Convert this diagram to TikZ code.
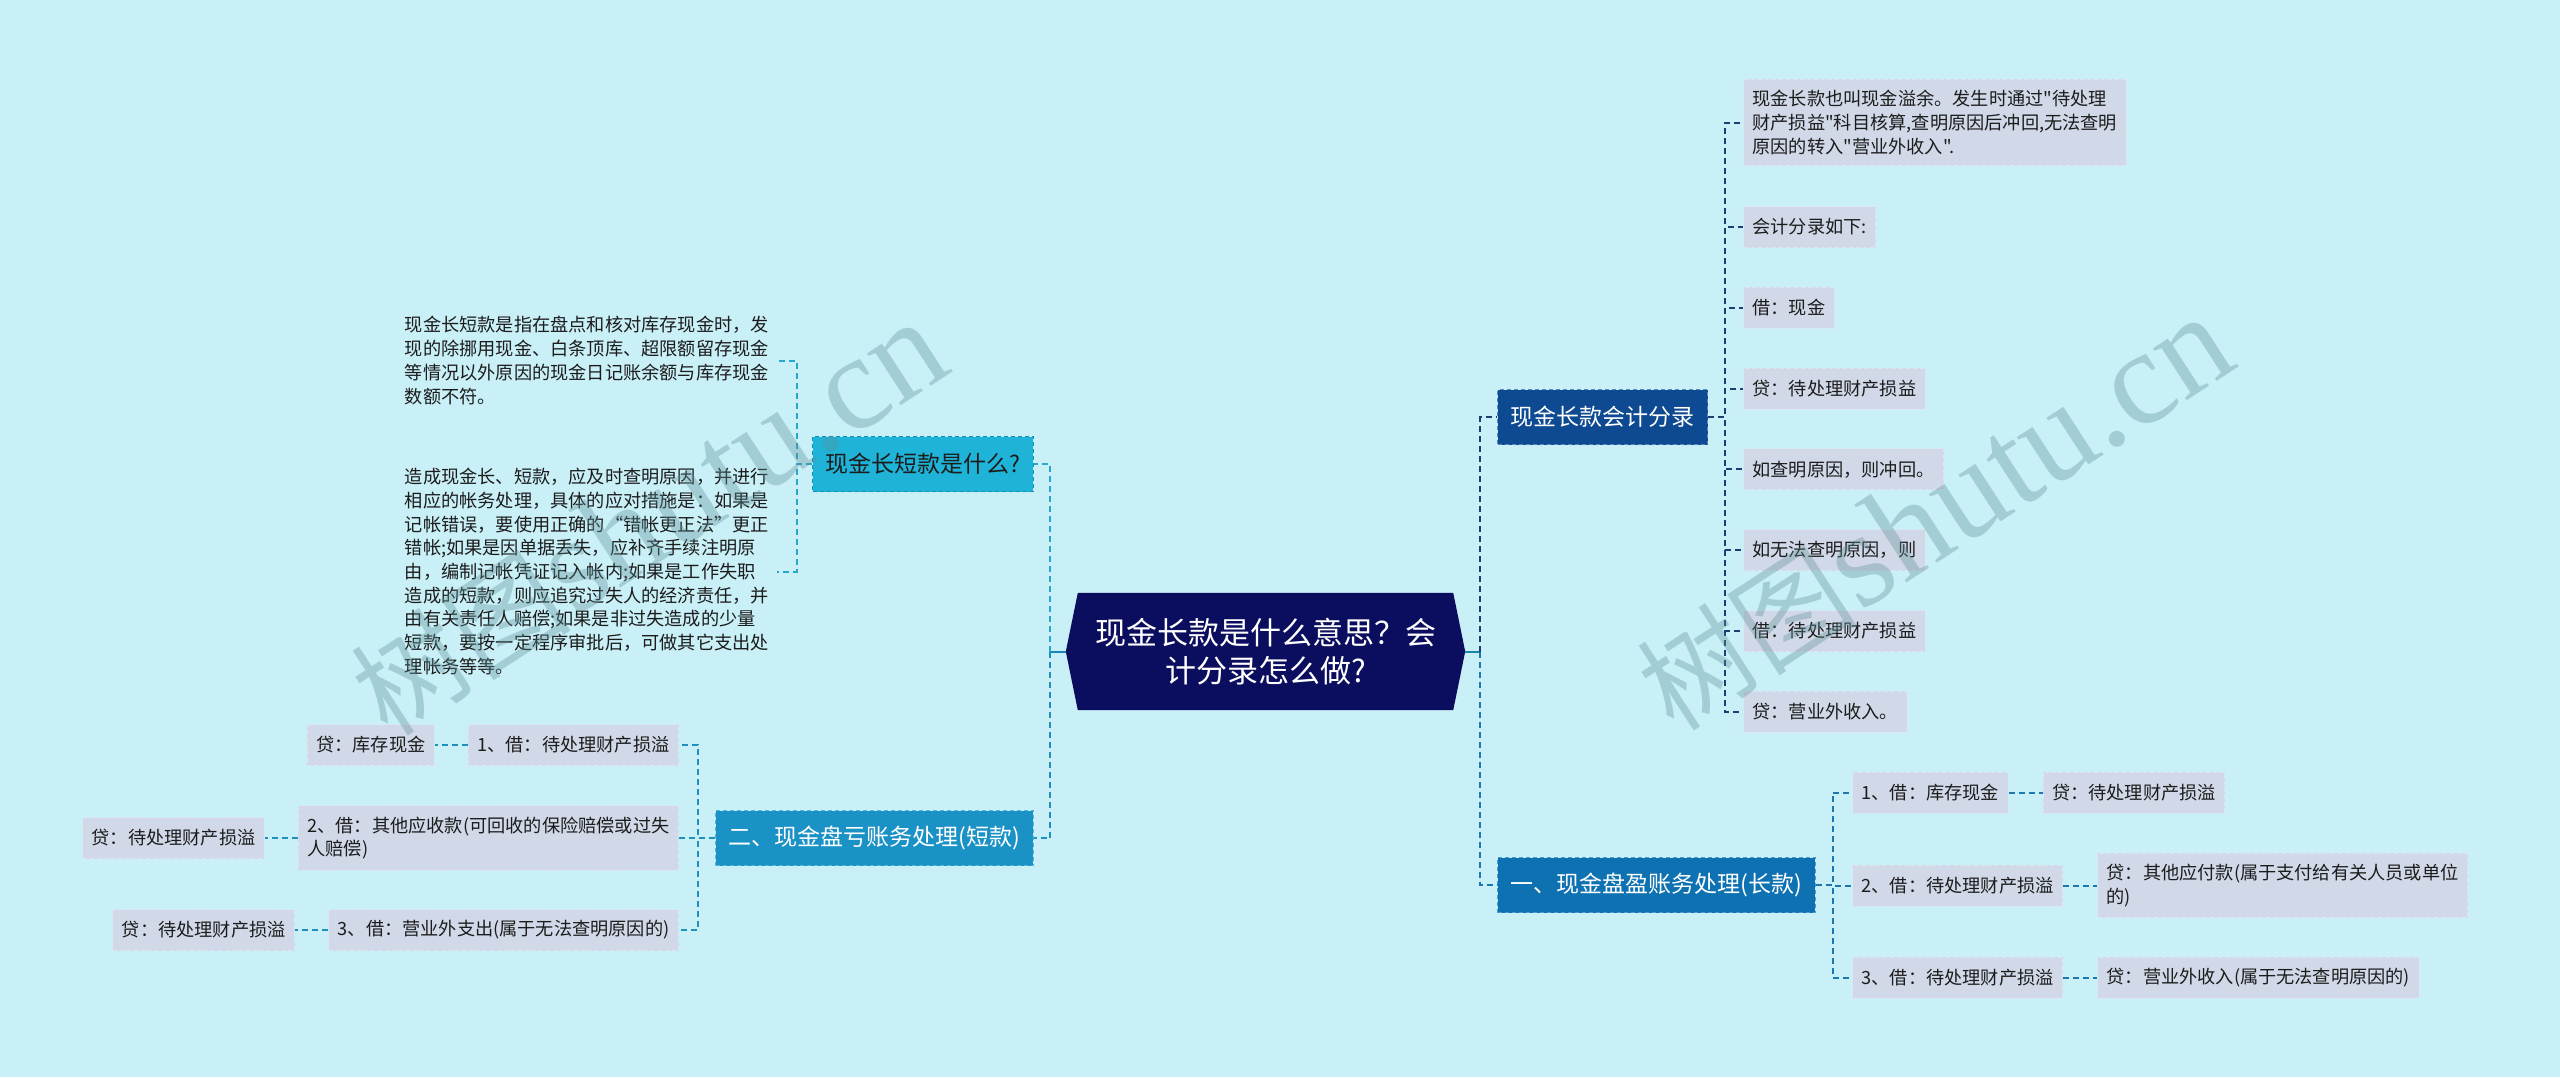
\documentclass[tikz,border=0pt]{standalone}
\usepackage{fontspec}
\newfontfamily\cjk{Noto Sans CJK SC}
\newfontfamily\wmserif{Liberation Serif}
\usetikzlibrary{backgrounds}

\begin{document}
\begin{tikzpicture}[x=1pt, y=-1pt,
    leaf/.style={fill=leafFill, draw=leafEdge, line width=1pt, dash pattern=on 4pt off 3pt,
        font=\cjk\fontsize{18.2}{23.7}\selectfont, text=leafText, align=left,
        inner xsep=9pt, inner ysep=11pt, minimum height=41pt},
    para/.style={font=\cjk\fontsize{18.2}{23.7}\selectfont, text=leafText, align=left, inner xsep=8pt},
    branch/.style={font=\cjk\fontsize{23}{28}\selectfont, line width=1.2pt, dash pattern=on 4pt off 3pt,
        inner xsep=13pt, minimum height=55pt},
    link/.style={line width=2pt, dash pattern=on 6pt off 4pt},
    watermark/.style={text=wmColour, text opacity=0.35, rotate=33}]
    % Define colours
    \definecolor{bgColour}{HTML}{C9EFF7}
    \definecolor{rootFill}{HTML}{0B0E5E}
    \definecolor{leafFill}{HTML}{D1D9E8}
    \definecolor{leafEdge}{HTML}{DFE5EF}
    \definecolor{leafText}{HTML}{1C1C1C}
    \definecolor{lbOneFill}{HTML}{1FB3D8}
    \definecolor{lbOneEdge}{HTML}{1390B6}
    \definecolor{lbOneLine}{HTML}{27A7CC}
    \definecolor{lbTwoFill}{HTML}{1A92C6}
    \definecolor{lbTwoEdge}{HTML}{55B5DC}
    \definecolor{lbTwoLine}{HTML}{1D90BE}
    \definecolor{rbOneFill}{HTML}{0E4A92}
    \definecolor{rbOneEdge}{HTML}{5B87BD}
    \definecolor{rbOneLine}{HTML}{1B3F73}
    \definecolor{rbTwoFill}{HTML}{0E72B2}
    \definecolor{rbTwoEdge}{HTML}{4C9CD0}
    \definecolor{rbTwoLine}{HTML}{1C78AE}
    \definecolor{stubColour}{HTML}{1A84B4}
    \definecolor{wmColour}{HTML}{5E8F96}

    \useasboundingbox (0,0) rectangle (2560,1077);

    % Root
    \node[text=white, align=center, font=\cjk\fontsize{31}{38}\selectfont,
        minimum width=399pt, minimum height=117pt] (root) at (1265.5,651.5)
        {现金长款是什么意思？会\\计分录怎么做?};
    \coordinate (ltrunk) at (1050,651.5);
    \coordinate (rtrunk) at (1480,651.5);

    % Main branches
    \node[branch, anchor=east, fill=lbOneFill, draw=lbOneEdge, text=leafText] (lb1) at (1034,464) {现金长短款是什么?};
    \node[branch, anchor=east, fill=lbTwoFill, draw=lbTwoEdge, text=white] (lb2) at (1034,838) {二、现金盘亏账务处理(短款)};
    \node[branch, anchor=west, fill=rbOneFill, draw=rbOneEdge, text=white] (rb1) at (1497,417) {现金长款会计分录};
    \node[branch, anchor=west, fill=rbTwoFill, draw=rbTwoEdge, text=white] (rb2) at (1497,885) {一、现金盘盈账务处理(长款)};

    \draw[stubColour, line width=2pt] (root.west) -- (ltrunk);
    \draw[stubColour, line width=2pt] (root.east) -- (rtrunk);
    \draw[link, lbOneLine] (ltrunk) |- (lb1.east);
    \draw[link, lbTwoLine] (ltrunk) |- (lb2.east);
    \draw[link, rbOneLine] (rtrunk) |- (rb1.west);
    \draw[link, rbTwoLine] (rtrunk) |- (rb2.west);

    % Left: what it is
    \node[para, anchor=east] (p1) at (777,360.5) {现金长短款是指在盘点和核对库存现金时，发\\现的除挪用现金、白条顶库、超限额留存现金\\等情况以外原因的现金日记账余额与库存现金\\数额不符。};
    \node[para, anchor=east] (p2) at (777,571.5) {造成现金长、短款，应及时查明原因，并进行\\相应的帐务处理，具体的应对措施是：如果是\\记帐错误，要使用正确的“错帐更正法”更正\\错帐;如果是因单据丢失，应补齐手续注明原\\由，编制记帐凭证记入帐内;如果是工作失职\\造成的短款，则应追究过失人的经济责任，并\\由有关责任人赔偿;如果是非过失造成的少量\\短款，要按一定程序审批后，可做其它支出处\\理帐务等等。};
    \foreach \i in {1,2}
        \draw[link, lbOneLine] (lb1.west) -- ++(-15,0) |- (p\i.east);

    % Left: short entries
    \node[leaf, anchor=east] (l1) at (679,745) {1、借：待处理财产损溢};
    \node[leaf, anchor=east] (l2) at (679,838) {2、借：其他应收款(可回收的保险赔偿或过失\\人赔偿)};
    \node[leaf, anchor=east] (l3) at (679,930) {3、借：营业外支出(属于无法查明原因的)};
    \node[leaf, anchor=east] (lc1) at ([xshift=-33pt]l1.west) {贷：库存现金};
    \node[leaf, anchor=east] (lc2) at ([xshift=-33pt]l2.west) {贷：待处理财产损溢};
    \node[leaf, anchor=east] (lc3) at ([xshift=-33pt]l3.west) {贷：待处理财产损溢};
    \foreach \i in {1,2,3} {
        \draw[link, lbTwoLine] (lb2.west) -- ++(-17,0) |- (l\i.east);
        \draw[link, lbTwoLine] (l\i.west) -- (lc\i.east);
    }

    % Right: accounting entries
    \node[leaf, anchor=west] (r1) at (1743,122.5) {现金长款也叫现金溢余。发生时通过"待处理\\财产损益"科目核算,查明原因后冲回,无法查明\\原因的转入"营业外收入".};
    \foreach \txt [count=\i from 2] in {会计分录如下:, 借：现金, 贷：待处理财产损益, 如查明原因，则冲回。,
            如无法查明原因，则, 借：待处理财产损益, 贷：营业外收入。}
        \node[leaf, anchor=west] (r\i) at (1743,{227+80.8*(\i-2)}) {\txt};
    \foreach \i in {1,...,8}
        \draw[link, rbOneLine] (rb1.east) -- ++(17,0) |- (r\i.west);

    % Right: long entries
    \node[leaf, anchor=west] (d1) at (1852,792.5) {1、借：库存现金};
    \node[leaf, anchor=west] (d2) at (1852,885.5) {2、借：待处理财产损溢};
    \node[leaf, anchor=west] (d3) at (1852,977.5) {3、借：待处理财产损溢};
    \node[leaf, anchor=west] (c1) at ([xshift=34pt]d1.east) {贷：待处理财产损溢};
    \node[leaf, anchor=west] (c2) at ([xshift=34pt]d2.east) {贷：其他应付款(属于支付给有关人员或单位\\的)};
    \node[leaf, anchor=west] (c3) at ([xshift=34pt]d3.east) {贷：营业外收入(属于无法查明原因的)};
    \foreach \i in {1,2,3} {
        \draw[link, rbTwoLine] (rb2.east) -- ++(17,0) |- (d\i.west);
        \draw[link, rbTwoLine] (d\i.east) -- (c\i.west);
    }

    % Watermarks
    \node[watermark] (wmL) at (649,519) {{\cjk\fontsize{110}{110}\selectfont 树图}\,{\wmserif\fontsize{135}{135}\selectfont shutu.cn}};
    \node[watermark] (wmR) at (1935,514) {{\cjk\fontsize{110}{110}\selectfont 树图}\,{\wmserif\fontsize{135}{135}\selectfont shutu.cn}};

    % Background and root shape
    \begin{scope}[on background layer]
        \fill[bgColour] (0,0) rectangle (2560,1077);
        \fill[rootFill] (root.west) -- ([xshift=12pt]root.north west) -- ([xshift=-12pt]root.north east)
            -- (root.east) -- ([xshift=-12pt]root.south east) -- ([xshift=12pt]root.south west) -- cycle;
    \end{scope}
\end{tikzpicture}
\end{document}
